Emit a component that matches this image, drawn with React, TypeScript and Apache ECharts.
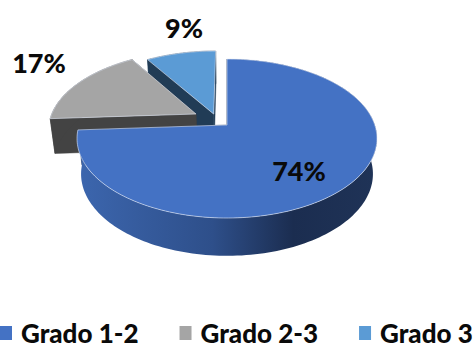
import React, { useEffect, useRef } from "react";
import * as echarts from "echarts";

// Share of students per grade band, in percent.
const categories = ["Grado 1-2", "Grado 2-3", "Grado 3"];
const shares = [74, 17, 9];

const topColors = ["#4472c4", "#a5a5a5", "#5b9bd5"];
const wallColors = ["#1f3357", "#434343", "#213c56"];

// Pulled-out offset of each slice on the pie's plane (pie radius = 1).
const explode: [number, number][] = [[0, 0], [-0.215, 0.146], [-0.092, 0.145]];

// Oblique projection of the pie: near side is larger than the far side.
const CX = 227, CY = 125, RX = 147.8, RY = 77.2, PERSP = 0.17;
const DROP = 35, BASE_SX = 0.973, BASE_SY = 1.03;
const FONT = "Lato, sans-serif";

type Pt = [number, number];

function project(u: number, v: number, base: boolean): Pt {
  const w = 1 + PERSP * v;
  const x = (RX * u) / w;
  const y = (-RY * v) / w;
  return base
    ? [CX + x * BASE_SX, CY + DROP + y * BASE_SY]
    : [CX + x, CY + y];
}

function arcPoints(a0: number, a1: number, off: [number, number], base: boolean): Pt[] {
  const steps = Math.max(8, Math.ceil(Math.abs(a1 - a0) / 1.5));
  const pts: Pt[] = [];
  for (let i = 0; i <= steps; i++) {
    const t = ((a0 + ((a1 - a0) * i) / steps) * Math.PI) / 180;
    pts.push(project(Math.sin(t) + off[0], Math.cos(t) + off[1], base));
  }
  return pts;
}

const labelPositions: Pt[] = [[299, 170], [39, 62], [184, 27]];

function sliceRenderer(index: number) {
  return (_params: any, api: any) => {
    const value = api.value(0) as number;
    const total = shares.reduce((a, b) => a + b, 0);
    const before = shares.slice(0, index).reduce((a, b) => a + b, 0);
    const a0 = (before / total) * 360;
    const a1 = a0 + (value / total) * 360;
    const off = explode[index];

    const apexTop = project(off[0], off[1], false);
    const apexBase = project(off[0], off[1], true);
    const rimTop = arcPoints(a0, a1, off, false);
    const rimBase = arcPoints(a0, a1, off, true);

    const wallFill =
      index === 0
        ? new echarts.graphic.LinearGradient(
            78, 0, 377, 0,
            [
              { offset: 0, color: "#3c66ae" },
              { offset: 0.45, color: "#2e4f8a" },
              { offset: 0.72, color: "#1b2d50" },
              { offset: 1, color: "#1f3357" },
            ],
            true
          )
        : wallColors[index];

    const wall = (points: Pt[], fill: any) => ({
      type: "polygon",
      shape: { points },
      style: { fill, stroke: fill === wallFill && index === 0 ? "none" : fill, lineWidth: 0.5 },
    });

    return {
      type: "group",
      children: [
        // Cut faces of the slice, then its outer wall.
        wall([apexTop, rimTop[0], rimBase[0], apexBase], wallColors[index]),
        wall([apexTop, rimTop[rimTop.length - 1], rimBase[rimBase.length - 1], apexBase], wallColors[index]),
        wall([...rimTop, ...rimBase.slice().reverse()], wallFill),
        // Top face with its pale edge.
        {
          type: "polygon",
          shape: { points: [apexTop, ...rimTop] },
          style: { fill: topColors[index], stroke: "rgba(225,232,245,0.75)", lineWidth: 0.8 },
        },
        {
          type: "text",
          style: {
            text: `${value}%`,
            x: labelPositions[index][0],
            y: labelPositions[index][1],
            fill: "#0a0a0a",
            fontSize: 27,
            fontWeight: 900,
            fontFamily: FONT,
            textAlign: "center",
            textVerticalAlign: "middle",
          },
        },
      ],
    };
  };
}

export default function App() {
  const ref = useRef<HTMLDivElement>(null);

  useEffect(() => {
    const chart = echarts.init(ref.current!, undefined, { renderer: "svg" });
    chart.setOption({
      animation: false,
      backgroundColor: "#ffffff",
      legend: {
        data: categories,
        left: 0,
        top: 319,
        width: 700,
        padding: 0,
        icon: "rect",
        itemWidth: 12,
        itemHeight: 14,
        itemGap: 41,
        textStyle: {
          color: "#0a0a0a",
          fontSize: 26,
          lineHeight: 28,
          fontWeight: 900,
          fontFamily: FONT,
          padding: [0, 0, 0, 4],
        },
        selectedMode: false,
      },
      // Far slices are painted first so the large slice overlaps them.
      series: categories.map((name, i) => ({
        type: "custom",
        name,
        coordinateSystem: "none",
        z: i === 0 ? 5 : 4 - i,
        silent: true,
        itemStyle: { color: topColors[i] },
        data: [[shares[i]]],
        renderItem: sliceRenderer(i),
      })),
    });
    return () => chart.dispose();
  }, []);

  return <div ref={ref} style={{ position: "fixed", left: 0, top: 0, width: 476, height: 348 }} />;
}
